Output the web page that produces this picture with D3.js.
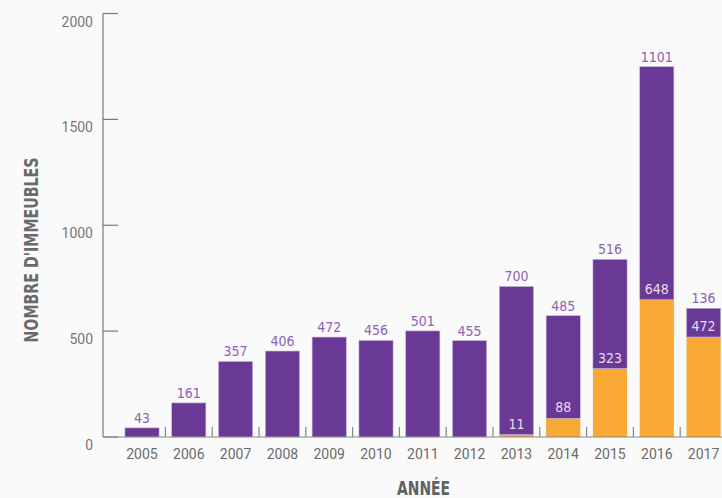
<!DOCTYPE html>
<html>
<head>
<meta charset="utf-8">
<script src="https://cdn.jsdelivr.net/npm/d3@7"></script>
<style>
  html, body { margin: 0; padding: 0; background: #fafafa; }
  svg { display: block; }
</style>
</head>
<body>
<svg id="chart" width="722" height="498"></svg>
<script>
// Building counts per year, split in two stacked groups
const years = ["2005","2006","2007","2008","2009","2010","2011","2012","2013","2014","2015","2016","2017"];
const upperValues = [43,161,357,406,472,456,501,455,700,485,516,1101,136];
const lowerValues = [0,0,0,0,0,0,0,0,11,88,323,648,472];
const yTicks = [0,500,1000,1500,2000];

const purple = "#6a3995";
const orange = "#f8a933";
const axisGrey = "#7a7a7a";
const condensed = "'DejaVu Sans Condensed','Roboto',sans-serif";

const svg = d3.select("#chart");

const x = d3.scaleBand().domain(years).range([118.6, 727]).paddingInner(0.27).paddingOuter(0.135);
const y = d3.scaleLinear().domain([0, 2000]).range([437, 13.5]);

const rows = years.map((yr, i) => ({ year: yr, lower: lowerValues[i], upper: upperValues[i] }));

// Lower (orange) segment
svg.append("g").selectAll("rect").data(rows.filter(d => d.lower > 0)).join("rect")
  .attr("x", d => x(d.year))
  .attr("width", x.bandwidth())
  .attr("y", d => y(d.lower))
  .attr("height", d => y(0) - y(d.lower))
  .attr("fill", orange);

// Upper (purple) segment stacked on top
svg.append("g").selectAll("rect").data(rows).join("rect")
  .attr("x", d => x(d.year))
  .attr("width", x.bandwidth())
  .attr("y", d => y(d.lower + d.upper))
  .attr("height", d => y(d.lower) - y(d.lower + d.upper))
  .attr("fill", purple)
  .attr("stroke", "#c9b6dc")
  .attr("stroke-width", 0.6);

// Value labels above each bar
svg.append("g").selectAll("text").data(rows).join("text")
  .attr("x", d => x(d.year) + x.bandwidth() / 2)
  .attr("y", d => y(d.lower + d.upper) - 5)
  .attr("text-anchor", "middle")
  .attr("font-family", condensed)
  .attr("font-size", 14)
  .attr("fill", "#8d62b6")
  .text(d => d.upper);

// Value labels of the lower segment, inside the purple part
svg.append("g").selectAll("text").data(rows.filter(d => d.lower > 0)).join("text")
  .attr("x", d => x(d.year) + x.bandwidth() / 2)
  .attr("y", d => y(d.lower) - 6)
  .attr("text-anchor", "middle")
  .attr("font-family", condensed)
  .attr("font-size", 14)
  .attr("fill", "#e6dcf0")
  .text(d => d.lower);

// Y axis
const yAxis = svg.append("g").attr("transform", "translate(103,0)");
yAxis.append("line").attr("x1", 0).attr("x2", 0).attr("y1", y(2000)).attr("y2", y(0))
  .attr("stroke", axisGrey).attr("stroke-width", 1.2);
yAxis.selectAll("line.tick").data(yTicks).join("line").attr("class", "tick")
  .attr("x1", 0).attr("x2", 15).attr("y1", d => y(d)).attr("y2", d => y(d))
  .attr("stroke", axisGrey).attr("stroke-width", 1.2);
yAxis.selectAll("text").data(yTicks).join("text")
  .attr("x", -10).attr("y", d => y(d) + 13)
  .attr("text-anchor", "end")
  .attr("font-family", "Roboto, sans-serif")
  .attr("font-size", 14)
  .attr("fill", "#777")
  .text(d => d);

// X axis baseline, separators between bands and year labels
const xAxis = svg.append("g");
xAxis.append("line").attr("x1", 103).attr("x2", 722).attr("y1", y(0)).attr("y2", y(0))
  .attr("stroke", "#888").attr("stroke-width", 1.2);
xAxis.selectAll("line.sep").data(years.slice(1)).join("line").attr("class", "sep")
  .attr("x1", d => x(d) - x.step() * x.paddingInner() / 2)
  .attr("x2", d => x(d) - x.step() * x.paddingInner() / 2)
  .attr("y1", y(0) - 10).attr("y2", y(0))
  .attr("stroke", "#888").attr("stroke-width", 1.2);
xAxis.selectAll("text").data(years).join("text")
  .attr("x", d => x(d) + x.bandwidth() / 2)
  .attr("y", 459)
  .attr("text-anchor", "middle")
  .attr("font-family", "Roboto, sans-serif")
  .attr("font-size", 14)
  .attr("fill", "#6b6b6b")
  .text(d => d);

// Axis titles (narrow, tall lettering)
svg.append("text")
  .attr("transform", "translate(37.5,250) rotate(-90)")
  .attr("text-anchor", "middle")
  .attr("font-family", condensed)
  .attr("font-weight", "bold")
  .attr("font-size", 20)
  .attr("textLength", 185)
  .attr("lengthAdjust", "spacingAndGlyphs")
  .attr("fill", "#6a6a6a")
  .text("NOMBRE D'IMMEUBLES");

svg.append("text")
  .attr("x", 423.5).attr("y", 494.5)
  .attr("text-anchor", "middle")
  .attr("font-family", condensed)
  .attr("font-weight", "bold")
  .attr("font-size", 19)
  .attr("textLength", 53)
  .attr("lengthAdjust", "spacingAndGlyphs")
  .attr("fill", "#5e6262")
  .text("ANNÉE");
</script>
</body>
</html>
